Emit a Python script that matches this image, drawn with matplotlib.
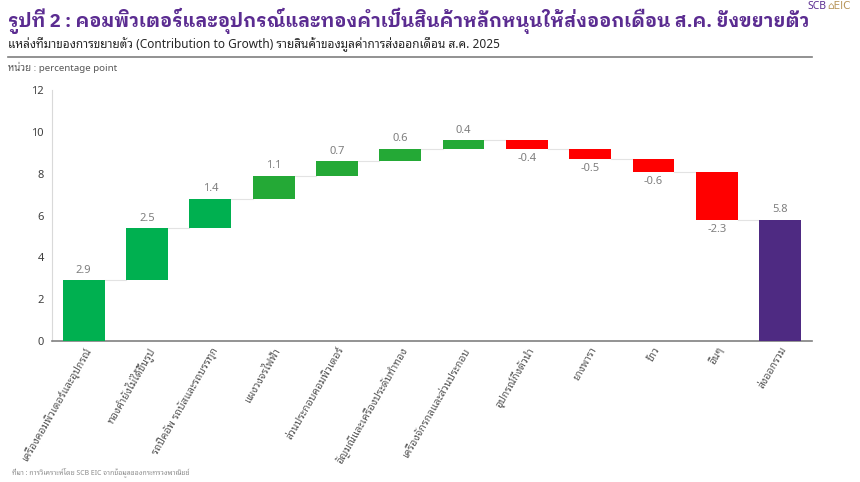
import matplotlib
matplotlib.use('Agg')
import matplotlib.pyplot as plt

categories = ['เครื่องคอมพิวเตอร์และอุปกรณ์', 'ทองคำยังไม่ได้ขึ้นรูป', 'รถปิคอัพ รถบัสและรถบรรทุก',
              'แผงวงจรไฟฟ้า', 'ส่วนประกอบคอมพิวเตอร์', 'อัญมณีและเครื่องประดับทำทอง',
              'เครื่องจักรกลและส่วนประกอบ', 'อุปกรณ์กึ่งตัวนำ', 'ยางพารา', 'ข้าว', 'อื่นๆ', 'ส่งออกรวม']
changes = [2.9, 2.5, 1.4, 1.1, 0.7, 0.6, 0.4, -0.4, -0.5, -0.6, -2.3]
total = 5.8

plt.rcParams['font.family'] = ['Noto Sans Thai Looped', 'Noto Sans', 'DejaVu Sans']
num_font = ['Noto Sans', 'DejaVu Sans']

fig = plt.figure(figsize=(8.6, 4.82), dpi=100)
ax = fig.add_axes([0.0605, 0.2925, 0.8835, 0.5205])

green1 = '#00B050'
green2 = '#24A936'
red = '#FF0000'
purple = '#4E2A82'
w = 0.66

cum = 0
for i, v in enumerate(changes):
    bottom = cum if v > 0 else cum + v
    color = red if v < 0 else (green1 if i < 3 else green2)
    ax.bar(i, abs(v), bottom=bottom, width=w, color=color, zorder=3)
    new = cum + v
    if v > 0:
        ax.text(i, new + 0.22, f'{v:.1f}', ha='center', va='bottom', fontsize=8, color='#7f7f7f', family=num_font)
    else:
        ax.text(i, new - 0.2, f'{v:.1f}', ha='center', va='top', fontsize=8, color='#7f7f7f', family=num_font)
    # เส้นเชื่อมไปยังแท่งถัดไป
    ax.plot([i + w / 2, i + 1 - w / 2], [new, new], color='#e3e3e3', lw=0.8, zorder=2)
    cum = new
ax.bar(len(changes), total, width=w, color=purple, zorder=3)
ax.text(len(changes), total + 0.22, f'{total:.1f}', ha='center', va='bottom', fontsize=8, color='#7f7f7f',
        family=num_font)

ax.set_xlim(-0.5, len(categories) - 0.5)
ax.set_ylim(0, 12)
ax.set_yticks(range(0, 13, 2))
ax.set_xticks(range(len(categories)))
ax.set_xticklabels(categories, rotation=60, ha='right', rotation_mode='anchor', fontsize=7.5, color='#595959')
for lab in ax.get_yticklabels():
    lab.set_family(num_font)
ax.tick_params(axis='y', labelsize=8, colors='#404040', length=0, pad=6)
ax.tick_params(axis='x', length=0, pad=3)
for s in ['top', 'right']:
    ax.spines[s].set_visible(False)
ax.spines['left'].set_color('#d9d9d9')
ax.spines['bottom'].set_color('#808080')
ax.spines['bottom'].set_linewidth(1.2)

fig.text(0.009, 0.957, 'รูปที่ 2 : คอมพิวเตอร์และอุปกรณ์และทองคำเป็นสินค้าหลักหนุนให้ส่งออกเดือน ส.ค. ยังขยายตัว',
         fontsize=13.4, fontweight='bold', color='#5B2C91', va='center',
         family=['IBM Plex Sans Thai Looped', 'DejaVu Sans'])
fig.text(0.009, 0.907, 'แหล่งที่มาของการขยายตัว (Contribution to Growth) รายสินค้าของมูลค่าการส่งออกเดือน ส.ค. 2025',
         fontsize=8.5, color='#262626', va='center')
fig.add_artist(plt.Line2D([0.009, 0.944], [0.882, 0.882], color='#7f7f7f', lw=1.2))
fig.text(0.009, 0.861, 'หน่วย : percentage point', fontsize=7, color='#595959', va='center')
fig.text(0.961, 0.987, 'SCB', fontsize=7.5, fontweight='bold', color='#5B2C91', va='center', ha='right',
         family=num_font)
fig.text(0.962, 0.987, '⌂EIC', fontsize=7.5, color='#B8955A', va='center', ha='left', family=['DejaVu Sans'])
fig.text(0.014, 0.021, 'ที่มา : การวิเคราะห์โดย SCB EIC จากข้อมูลของกระทรวงพาณิชย์', fontsize=5,
         color='#8c8c8c', va='center')

fig.savefig('out.png', dpi=100)
